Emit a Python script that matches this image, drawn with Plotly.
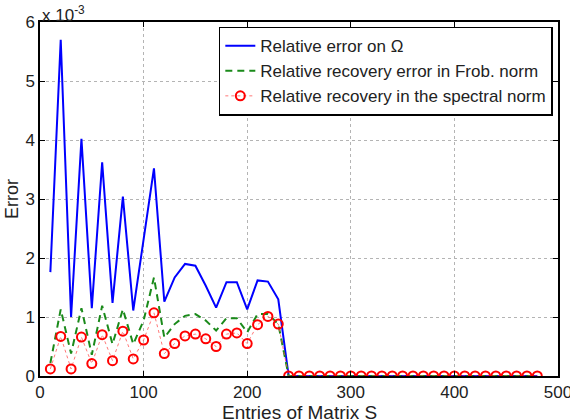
import plotly.graph_objects as go

# x positions (entries of matrix S)
entries = list(range(10, 490, 10))

# values shown in units of 1e-3
rel_err_omega = [1.76, 5.70, 1.00, 4.02, 1.15, 3.62, 1.24, 3.04, 1.11, 2.30,
                 3.52, 1.26, 1.67, 1.90, 1.87, 1.53, 1.16, 1.59, 1.59, 1.13,
                 1.62, 1.60, 1.30] + [0.0] * 25
rel_err_frob = [0.22, 1.13, 0.38, 1.15, 0.36, 1.19, 0.54, 1.13, 0.54, 0.94,
                1.67, 0.65, 0.88, 1.02, 1.05, 0.94, 0.77, 0.98, 0.98, 0.74,
                1.05, 1.05, 0.88] + [0.0] * 25
rel_err_spec = [0.12, 0.67, 0.12, 0.66, 0.21, 0.70, 0.26, 0.76, 0.29, 0.61,
                1.07, 0.38, 0.55, 0.68, 0.71, 0.63, 0.50, 0.71, 0.73, 0.55,
                0.87, 1.01, 0.88] + [0.0] * 25

names = ["Relative error on Ω",
         "Relative recovery error in Frob. norm",
         "Relative recovery in the spectral norm"]

xticks = [0, 100, 200, 300, 400, 500]
yticks = [0, 1, 2, 3, 4, 5, 6]
x_title = "Entries of Matrix S"
y_title = "Error"

fig = go.Figure()
fig.add_trace(go.Scatter(x=entries, y=rel_err_omega, mode="lines", name=names[0],
                         line=dict(color="#0000ff", width=2)))
fig.add_trace(go.Scatter(x=entries, y=rel_err_frob, mode="lines", name=names[1],
                         line=dict(color="#1a8a1a", width=2, dash="7px,5px")))
fig.add_trace(go.Scatter(x=entries, y=rel_err_spec, mode="lines+markers", name=names[2],
                         line=dict(color="#ff5555", width=0.8, dash="dot"),
                         marker=dict(symbol="circle-open", size=9, color="#ff0000",
                                     line=dict(width=2, color="#ff0000"))))

axis_common = dict(showline=True, linecolor="black", linewidth=1.5, mirror="ticks",
                   ticks="inside", ticklen=5, tickcolor="black", automargin=False,
                   ticklabeloverflow="allow",
                   showgrid=True, gridcolor="#b4b4b4", griddash="dot", gridwidth=1,
                   zeroline=False, tickfont=dict(size=17, color="#222"))

fig.update_xaxes(range=[0, 500], tickvals=xticks, **axis_common)
fig.update_yaxes(range=[0, 6], tickvals=yticks,
                 title=dict(text=y_title, font=dict(size=18, color="#222"), standoff=2),
                 **axis_common)

fig.add_annotation(text=x_title, xref="paper", yref="paper", x=0.5, y=-0.068,
                   xanchor="center", yanchor="top", showarrow=False,
                   font=dict(size=19, color="#222"))

fig.add_annotation(text="x 10<sup>-3</sup>", xref="paper", yref="paper", x=0, y=1,
                   xanchor="left", yanchor="bottom", showarrow=False, yshift=-5,
                   font=dict(size=17, color="#222"))

fig.update_layout(
    width=570, height=420,
    margin=dict(l=40, r=12, t=22, b=44, autoexpand=False),
    paper_bgcolor="white", plot_bgcolor="white",
    font=dict(family="Liberation Sans, Arial, sans-serif", color="#222"),
    showlegend=True,
    legend=dict(x=0.99, y=0.987, xanchor="right", yanchor="top",
                bgcolor="white", bordercolor="black", borderwidth=1.5,
                font=dict(size=17, color="#222"), tracegroupgap=0,
                itemwidth=30),
)

fig.write_html("out.html")
